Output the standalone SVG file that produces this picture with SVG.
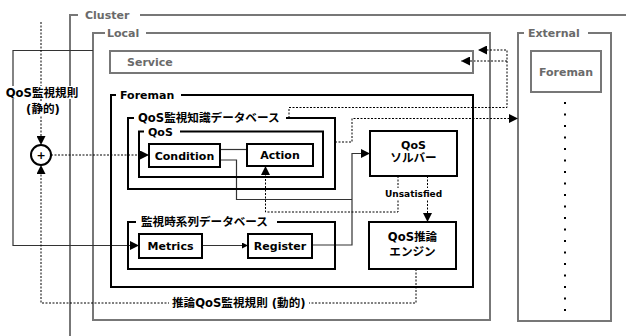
<svg xmlns="http://www.w3.org/2000/svg" width="626" height="336" viewBox="0 0 626 336">
<defs>
<style>
text{font-family:"DejaVu Sans","Noto Sans CJK JP",sans-serif;font-weight:bold;font-size:11px;fill:#000}
.cj{font-size:11.6px}
.gt{fill:#6a6a6a}
.frame{fill:none;stroke:#777;stroke-width:2}
.box{fill:none;stroke:#000;stroke-width:2}
.node{fill:#fff;stroke:#000;stroke-width:2}
.sol{fill:none;stroke:#333;stroke-width:1.2}
.dot{fill:none;stroke:#000;stroke-width:1;stroke-dasharray:2 1.5}
.bg{fill:#fff}
</style>
<marker id="ah" viewBox="0 0 10 10" refX="10" refY="5" markerWidth="9" markerHeight="9" markerUnits="userSpaceOnUse" orient="auto"><path d="M0,0 L10,5 L0,10 z" fill="#000"/></marker>
<marker id="as" viewBox="0 0 10 10" refX="10" refY="5" markerWidth="6" markerHeight="6" markerUnits="userSpaceOnUse" orient="auto"><path d="M0,0 L10,5 L0,10 z" fill="#000"/></marker>
</defs>
<rect width="626" height="336" fill="#fff"/>

<g id="cluster">
<path class="frame" d="M78,15 H70 V336 M140,15 H626"/>
<text class="gt" x="85" y="19">Cluster</text>
</g>
<g id="local">
<path class="frame" d="M105,33 H93 V320 H490 V33 H146"/>
<text class="gt" x="107" y="37">Local</text>
</g>
<g id="external">
<path class="frame" d="M524,33 H518 V321 H611 V33 H588"/>
<text class="gt" x="528" y="37">External</text>
</g>

<g id="connectors">
<path class="sol" d="M93,50.5 H13 V245.5 H139" marker-end="url(#ah)"/>
<path class="dot" d="M41,22 V145" marker-end="url(#ah)"/>
<path class="dot" d="M51,155 H149" marker-end="url(#ah)"/>
<path class="dot" d="M416,269 V303 H41 V165" marker-end="url(#ah)"/>
<path class="sol" d="M220,149.5 H247"/>
<path class="sol" d="M220,160 H236.5 V199.5 H352"/>
<path class="sol" d="M312,245 H352 V153.5 H370" marker-end="url(#ah)"/>
<path class="sol" d="M202,245.5 H248" marker-end="url(#as)"/>
<path class="dot" d="M335,142 H352 V118.5 H518" marker-end="url(#ah)"/>
<path class="dot" d="M289,118 V107.5 H507 V50 H478" marker-end="url(#ah)"/>
<path class="dot" d="M507,61 H461" marker-end="url(#ah)"/>
<path class="dot" d="M398,176 V212 H265.5 V166" marker-end="url(#ah)"/>
<path class="dot" d="M427.5,176 V222" marker-end="url(#ah)"/>
<rect class="bg" x="4" y="86" width="77" height="13"/>
<rect class="bg" x="23" y="102" width="40" height="13"/>
<text class="cj" x="42" y="97" text-anchor="middle">QoS監視規則</text>
<text class="cj" x="43" y="113" text-anchor="middle">(静的)</text>
<rect class="bg" x="169" y="296" width="140" height="14"/>
<text class="cj" x="172" y="307">推論QoS監視規則 (動的)</text>
<rect class="bg" x="384" y="188" width="62" height="11"/>
<text x="385" y="197" style="font-size:9px">Unsatisfied</text>
</g>

<g id="plus">
<circle cx="41" cy="155" r="10" fill="#fff" stroke="#000" stroke-width="2"/>
<text x="41" y="159" text-anchor="middle">+</text>
</g>

<g id="service">
<rect class="frame" x="110" y="51" width="363" height="22"/>
<text class="gt" x="127" y="66">Service</text>
</g>

<g id="foreman">
<path class="box" d="M116,95 H111 V287 H473 V95 H181"/>
<text x="120" y="99">Foreman</text>
</g>

<g id="qos-db">
<path class="box" d="M134,118 H128 V189 H335 V118 H286"/>
<text class="cj" x="138" y="122">QoS監視知識データベース</text>
</g>

<g id="qos">
<path class="box" d="M144,131.5 H139 V177 H323 V131.5 H180"/>
<text x="148" y="135.5">QoS</text>
</g>

<g id="condition">
<rect class="node" x="149" y="144" width="71" height="23"/>
<text x="184.5" y="159.5" text-anchor="middle">Condition</text>
</g>

<g id="action">
<rect class="node" x="247" y="144" width="66" height="22"/>
<text x="280" y="159" text-anchor="middle">Action</text>
</g>

<g id="solver">
<rect class="node" x="370" y="131" width="87" height="45"/>
<text x="413.5" y="148.5" text-anchor="middle">QoS</text>
<text class="cj" x="413.5" y="162" text-anchor="middle">ソルバー</text>
</g>

<g id="ts-db">
<path class="box" d="M136,222 H128 V269 H335 V222 H277"/>
<text class="cj" x="141" y="226">監視時系列データベース</text>
</g>

<g id="metrics">
<rect class="node" x="139" y="234" width="63" height="24"/>
<text x="170.5" y="250" text-anchor="middle">Metrics</text>
</g>

<g id="register">
<rect class="node" x="248" y="234" width="64" height="24"/>
<text x="280" y="250" text-anchor="middle">Register</text>
</g>

<g id="engine">
<rect class="node" x="369" y="222" width="87" height="47"/>
<text class="cj" x="412.5" y="241" text-anchor="middle">QoS推論</text>
<text class="cj" x="412.5" y="256" text-anchor="middle">エンジン</text>
</g>

<g id="ext-foreman">
<rect class="frame" x="531" y="51" width="70" height="41" fill="#fff"/>
<text class="gt" x="566" y="76" text-anchor="middle">Foreman</text>
<g fill="#000">
<rect x="564" y="102" width="2" height="2"/><rect x="564" y="113.5" width="2" height="2"/><rect x="564" y="125" width="2" height="2"/><rect x="564" y="136.5" width="2" height="2"/><rect x="564" y="148" width="2" height="2"/><rect x="564" y="159.5" width="2" height="2"/><rect x="564" y="171" width="2" height="2"/><rect x="564" y="182.5" width="2" height="2"/><rect x="564" y="194" width="2" height="2"/><rect x="564" y="205.5" width="2" height="2"/><rect x="564" y="217" width="2" height="2"/><rect x="564" y="228.5" width="2" height="2"/><rect x="564" y="240" width="2" height="2"/><rect x="564" y="251.5" width="2" height="2"/><rect x="564" y="263" width="2" height="2"/><rect x="564" y="274.5" width="2" height="2"/><rect x="564" y="286" width="2" height="2"/><rect x="564" y="297.5" width="2" height="2"/><rect x="564" y="309" width="2" height="2"/>
</g>
</g>
</svg>
